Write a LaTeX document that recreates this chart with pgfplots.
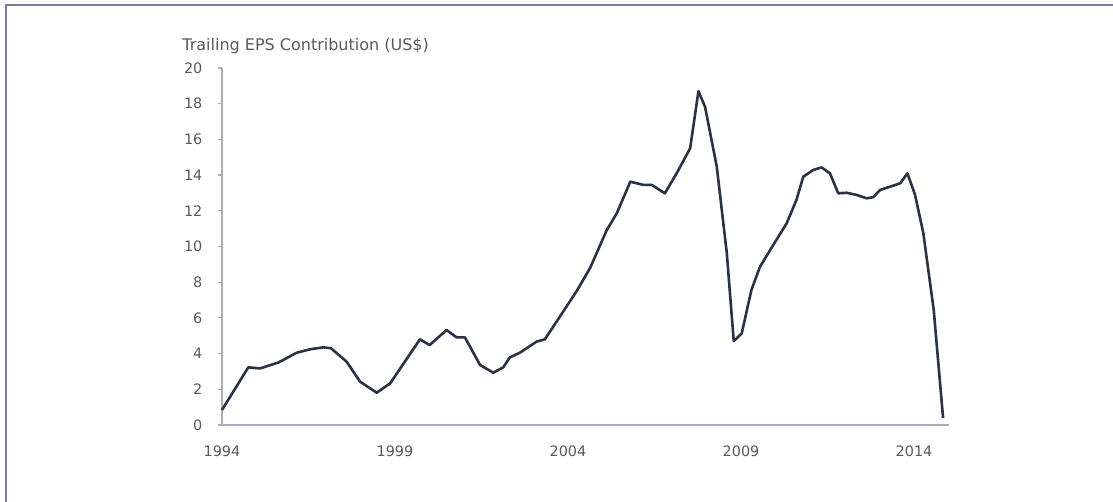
\documentclass[border=0pt]{standalone}
\usepackage{pgfplots}
\pgfplotsset{compat=1.18}
\usepackage{fontspec}
\setmainfont{DejaVu Sans}
\definecolor{frame}{HTML}{7A7E9C}
\definecolor{axisgray}{HTML}{A8AEBA}
\definecolor{txtgray}{HTML}{5A5A5A}
\definecolor{lineblue}{HTML}{2A3344}
\pgfplotstableread{
year val
1994.00 0.84
1994.76 3.23
1995.10 3.17
1995.63 3.50
1996.16 4.05
1996.54 4.24
1996.93 4.35
1997.15 4.30
1997.60 3.55
1997.99 2.43
1998.47 1.81
1998.86 2.33
1999.72 4.80
2000.00 4.48
2000.49 5.32
2000.78 4.91
2001.02 4.91
2001.46 3.36
2001.84 2.93
2002.13 3.23
2002.32 3.79
2002.61 4.05
2003.09 4.67
2003.33 4.80
2003.67 5.79
2004.25 7.50
2004.64 8.80
2005.12 10.92
2005.41 11.86
2005.80 13.63
2006.18 13.45
2006.42 13.45
2006.80 12.98
2007.14 14.10
2007.53 15.50
2007.77 18.70
2007.96 17.83
2008.30 14.47
2008.59 9.62
2008.79 4.70
2009.02 5.13
2009.30 7.56
2009.55 8.87
2009.93 10.08
2010.32 11.30
2010.60 12.60
2010.80 13.91
2011.09 14.29
2011.33 14.43
2011.57 14.10
2011.81 12.98
2012.05 13.01
2012.34 12.89
2012.63 12.70
2012.82 12.76
2013.02 13.17
2013.31 13.35
2013.60 13.54
2013.81 14.10
2014.03 12.89
2014.27 10.74
2014.57 6.44
2014.84 0.40
}\epsdata
\begin{document}
\begin{tikzpicture}
\useasboundingbox (0,0) rectangle (556.5pt,251pt);
\fill[white] (0,0) rectangle (556.5pt,251pt);
\draw[frame, line width=1pt] (3pt,0) -- (3pt,248.5pt) -- (556.5pt,248.5pt);
\begin{axis}[
  at={(111pt,38.5pt)}, anchor=south west,
  scale only axis, width=363.3pt, height=178.5pt,
  xmin=1994, xmax=2015, ymin=0, ymax=20,
  axis x line*=bottom, axis y line*=left,
  axis line style={axisgray, line width=0.8pt, -},
  xtick={1994,1999,2004,2009,2014},
  ytick={0,2,...,20},
  xticklabel style={/pgf/number format/1000 sep={}},
  x tick style={draw=none},
  y tick style={axisgray, line width=0.6pt},
  tick align=outside, major tick length=1.8pt,
  tick label style={font=\fontsize{7.2}{8}\selectfont, text=txtgray},
  /pgf/number format/assume math mode=true,
  yticklabel style={xshift=-4.5pt},
  xticklabel style={yshift=-5pt},
  clip=false,
]
\addplot[lineblue, line width=1.3pt, line join=round] table[x=year,y=val] {\epsdata};
\end{axis}
\node[anchor=base west, inner sep=0pt, text=txtgray, font=\fontsize{8}{9}\selectfont] at (91pt,225.5pt) {Trailing EPS Contribution (US\$)};
\end{tikzpicture}
\end{document}
